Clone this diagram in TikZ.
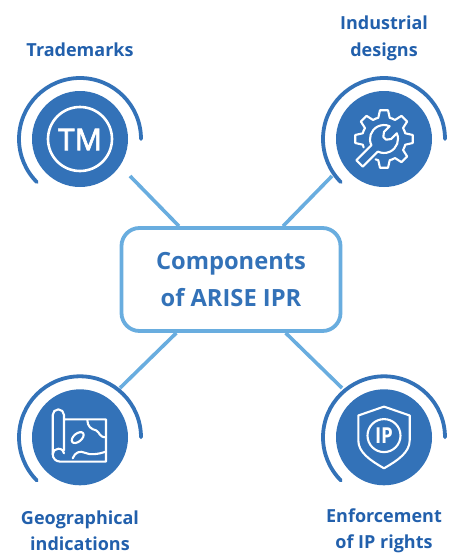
\documentclass[tikz,border=0pt]{standalone}
\usepackage{fontspec}
\setmainfont{Noto Sans}
\newfontfamily\heavy{Open Sans}
\newfontfamily\midw[FakeBold=2.2]{Noto Sans}
\definecolor{disc}{HTML}{3372B8}
\definecolor{link}{HTML}{69ADDF}
\definecolor{labelc}{HTML}{2260AC}
\tikzset{
  x=1pt,y=1pt,
  disc/.style={circle,fill=disc,minimum size=96pt,inner sep=0pt},
  ring/.style={draw=disc,line width=3.8pt,line cap=round},
  connector/.style={draw=link,line width=3.6pt},
  hub/.style={draw=link,line width=3.8pt,fill=white,rounded corners=18pt,minimum width=219pt,minimum height=103pt,inner sep=0pt,align=center,text=disc,font=\fontsize{23.7}{36.7}\selectfont\heavy\bfseries},
  lab/.style={text=labelc,align=center,inner sep=0pt,font=\fontsize{18}{26.4}\selectfont\heavy\bfseries},
  icon/.style={draw=white,line width=2.1pt,line join=round,line cap=round},
}
\begin{document}
\begin{tikzpicture}
\useasboundingbox (0,0) rectangle (458,-554);
\coordinate (tlc) at (80,-139);
\coordinate (trc) at (384,-139);
\coordinate (blc) at (80,-437.3);
\coordinate (brc) at (384,-437.3);
\coordinate (tlend) at (130,-176);
\coordinate (trend) at (332,-176);
\coordinate (blend) at (120,-388);
\coordinate (brend) at (342,-388);
\node[hub] (box) at (231,-279.5) {Components\\of ARISE IPR};
\draw[connector] (tlend) -- (box);
\draw[connector] (trend) -- (box);
\draw[connector] (blend) -- (box);
\draw[connector] (brend) -- (box);
\foreach \c/\n in {tlc/tld,trc/trd,blc/bld,brc/brd}{
  \node[disc] (\n) at (\c) {};
  \draw[ring] ([shift={(0:61)}]\c) arc[start angle=0,end angle=225,radius=61];
}
% Trademark icon
\draw[white,line width=2.6pt] (tlc) circle[radius=32];
\node[text=white,inner sep=0pt,font=\fontsize{30}{30}\selectfont\midw] (tm) at (80,-139.5) {TM};
% Gear and wrench
\begin{scope}[shift={(trc)}]
  \foreach \a in {0,45,90,135,180,270,315}{
    \draw[icon] (\a-22.5:22) arc[start angle=\a-22.5,end angle=\a-15,radius=22]
      -- (\a-8:29) -- (\a+8:29) -- (\a+15:22)
      arc[start angle=\a+15,end angle=\a+22.5,radius=22];
  }
  \begin{scope}[rotate=225]
    \draw[icon] (13.3,4.5) -- (34.6,4.5) -- (34.6,-4.5) -- (13.3,-4.5)
      arc[start angle=-18.7,end angle=-159.1,radius=14]
      -- (-5,-5) -- (-1,-2) -- (-1,2) -- (-5,5) -- (-13.1,5)
      arc[start angle=159.1,end angle=18.7,radius=14];
  \end{scope}
\end{scope}
% Map icon
\begin{scope}[shift={(blc)}]
  \draw[icon] (-16,-13) -- (-16,22.3) arc[start angle=0,end angle=180,radius=5.65]
    -- (-27.3,-17) arc[start angle=180,end angle=270,radius=7.3] -- (26,-24.3) -- (26,18) -- (-16,18);
  \draw[icon] (-27.3,-17) arc[start angle=180,end angle=90,radius=5.6] .. controls (-18,-11.4) and (-16,-14) .. (-16,-16);
  \draw[icon] (7.3,17.3) .. controls (7.5,11) and (11,8) .. (16,7) .. controls (20,5) and (19,0) .. (26,0);
  \draw[icon] (-7.3,-21) .. controls (-5,-15) and (0,-13) .. (5,-15.5) .. controls (10,-18) and (18,-17) .. (26,-14.3);
  \draw[icon,rotate around={40:(-2.3,-0.3)}] (-2.3,-0.3) ellipse[x radius=7,y radius=4];
\end{scope}
% Shield icon
\begin{scope}[shift={(brc)}]
  \draw[icon] (0,30.7) -- (-25.7,21.8) -- (-25.7,-3)
    .. controls (-25.7,-15) and (-14,-23) .. (0,-31)
    .. controls (14,-23) and (25.7,-15) .. (25.7,-3) -- (25.7,21.8) -- cycle;
  \draw[icon] (0,1.7) circle[radius=16.5];
  \node[text=white,inner sep=0pt,xscale=.85,font=\fontsize{22}{22}\selectfont\heavy\bfseries] (ip) at (0,1.7) {IP};
\end{scope}
% Labels
\node[lab] (l1) at (80,-49.5) {Trademarks};
\node[lab] (l2) at (384,-38.5) {Industrial\\designs};
\node[lab] (l3) at (80,-530.5) {Geographical\\indications};
\node[lab] (l4) at (384,-530.5) {Enforcement\\of IP rights};
\end{tikzpicture}
\end{document}
